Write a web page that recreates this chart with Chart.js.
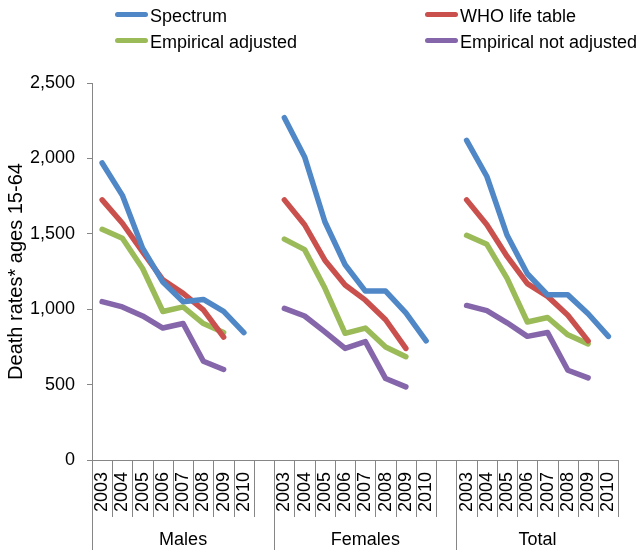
<!DOCTYPE html>
<html>
<head>
<meta charset="utf-8">
<script src="https://cdn.jsdelivr.net/npm/chart.js@4/dist/chart.umd.min.js"></script>
<style>
  body { margin: 0; background: #fff; }
  #wrap { position: relative; width: 642px; height: 552px; font-family: "Liberation Sans", Arial, sans-serif; }
  #chart { position: absolute; left: 0; top: 0; }
  .item { position: absolute; display: flex; align-items: center; font-size: 18px; color: #000; white-space: nowrap; }
  .swatch { width: 33px; height: 5px; border-radius: 3px; margin-right: 2px; margin-top: -4px; }
</style>
</head>
<body>
<div id="wrap">
  <canvas id="chart" width="642" height="552"></canvas>
  <div id="legend"></div>
</div>
<script>
const years = ["2003", "2004", "2005", "2006", "2007", "2008", "2009", "2010"];
const groups = ["Males", "Females", "Total"];

// values per group, in the order of groups
const spectrum = [
  [1970, 1755, 1405, 1180, 1050, 1065, 985, 845],
  [2270, 2010, 1580, 1295, 1120, 1120, 975, 790],
  [2120, 1880, 1490, 1235, 1095, 1095, 970, 820],
];
const whoLifeTable = [
  [1725, 1570, 1380, 1195, 1105, 995, 815, null],
  [1725, 1560, 1325, 1160, 1060, 930, 740, null],
  [1725, 1560, 1350, 1170, 1085, 960, 790, null],
];
const empAdjusted = [
  [1530, 1470, 1270, 985, 1015, 905, 845, null],
  [1465, 1395, 1140, 840, 875, 750, 685, null],
  [1490, 1430, 1205, 915, 945, 830, 770, null],
];
const empNotAdjusted = [
  [1050, 1015, 955, 875, 905, 655, 600, null],
  [1005, 955, 850, 740, 785, 540, 485, null],
  [1025, 990, 910, 820, 845, 595, 545, null],
];

const seriesNames = ["Spectrum", "WHO life table", "Empirical adjusted", "Empirical not adjusted"];
const seriesColors = ["#4F87C7", "#C9504D", "#9BBB59", "#8566AA"];

// one blank slot between groups
const labels = [];
const groupStart = [];
groups.forEach((g, gi) => {
  groupStart.push(labels.length);
  labels.push(...years);
  if (gi < groups.length - 1) labels.push("");
});

const flatten = (arr) => {
  const out = [];
  arr.forEach((vals, gi) => {
    out.push(...vals);
    if (gi < arr.length - 1) out.push(null);
  });
  return out;
};

const allSeries = [spectrum, whoLifeTable, empAdjusted, empNotAdjusted];
const datasets = allSeries.map((s, i) => ({
  label: seriesNames[i],
  data: flatten(s),
  borderColor: seriesColors[i],
  backgroundColor: seriesColors[i],
  borderWidth: 5.5,
  borderCapStyle: "round",
  borderJoinStyle: "round",
  pointRadius: 0,
  pointHoverRadius: 0,
  spanGaps: false,
  tension: 0,
}));

// legend, two columns
const legendPos = [
  { left: 115, top: 6 },
  { left: 425, top: 6 },
  { left: 115, top: 32 },
  { left: 425, top: 32 },
];
const legendOrder = [0, 1, 2, 3];
const legendDiv = document.getElementById("legend");
legendOrder.forEach((si, k) => {
  const el = document.createElement("div");
  el.className = "item";
  el.style.left = legendPos[k].left + "px";
  el.style.top = legendPos[k].top + "px";
  el.innerHTML = `<span class="swatch" style="background:${seriesColors[si]}"></span><span>${seriesNames[si]}</span>`;
  legendDiv.appendChild(el);
});

const axisGray = "#868686";
const fontFamily = "'Liberation Sans', Arial, sans-serif";

// separators under the category axis and the group names
const groupAxis = {
  id: "groupAxis",
  afterDraw(chart) {
    const { ctx, chartArea } = chart;
    const x = chart.scales.x;
    const n = labels.length;
    const step = (x.right - x.left) / n;
    const bottom = chartArea.bottom;
    ctx.save();
    ctx.strokeStyle = axisGray;
    ctx.lineWidth = 1;
    for (let i = 0; i <= n; i++) {
      const px = Math.round(x.getPixelForValue(Math.min(i, n - 1)) + (i === n ? step / 2 : -step / 2)) + 0.5;
      const long = groupStart.includes(i);
      ctx.beginPath();
      ctx.moveTo(px, bottom);
      ctx.lineTo(px, bottom + (long ? 90 : 57));
      ctx.stroke();
    }
    ctx.fillStyle = "#000";
    ctx.font = "18px " + fontFamily;
    ctx.textAlign = "center";
    ctx.textBaseline = "middle";
    groups.forEach((g, gi) => {
      const start = groupStart[gi];
      const end = gi < groups.length - 1 ? groupStart[gi + 1] : n;
      const cx = x.left + step * (start + end) / 2;
      ctx.fillText(g, cx, bottom + 80);
    });
    ctx.restore();
  },
};

new Chart(document.getElementById("chart"), {
  type: "line",
  data: { labels: labels, datasets: datasets },
  plugins: [groupAxis],
  options: {
    responsive: false,
    animation: false,
    layout: { padding: { top: 83, right: 2, left: 0, bottom: 0 } },
    plugins: {
      legend: { display: false },
      tooltip: { enabled: false },
    },
    scales: {
      x: {
        type: "category",
        offset: true,
        grid: { display: false, drawTicks: false },
        border: { display: true, color: axisGray, width: 1 },
        ticks: {
          autoSkip: false,
          maxRotation: 90,
          minRotation: 90,
          padding: 12,
          color: "#000",
          font: { size: 18, family: fontFamily },
        },
        afterFit: (scale) => {
          scale.height = 92;
        },
      },
      y: {
        min: 0,
        max: 2500,
        ticks: {
          stepSize: 500,
          padding: 12,
          color: "#000",
          font: { size: 18, family: fontFamily },
        },
        grid: {
          drawOnChartArea: false,
          drawTicks: true,
          tickLength: 5,
          color: axisGray,
        },
        border: { display: true, color: axisGray, width: 1 },
        title: {
          display: true,
          text: "Death rates* ages 15-64",
          color: "#000",
          font: { size: 20, family: fontFamily },
        },
        afterFit: (scale) => {
          scale.width = 92;
        },
      },
    },
  },
});
</script>
</body>
</html>
